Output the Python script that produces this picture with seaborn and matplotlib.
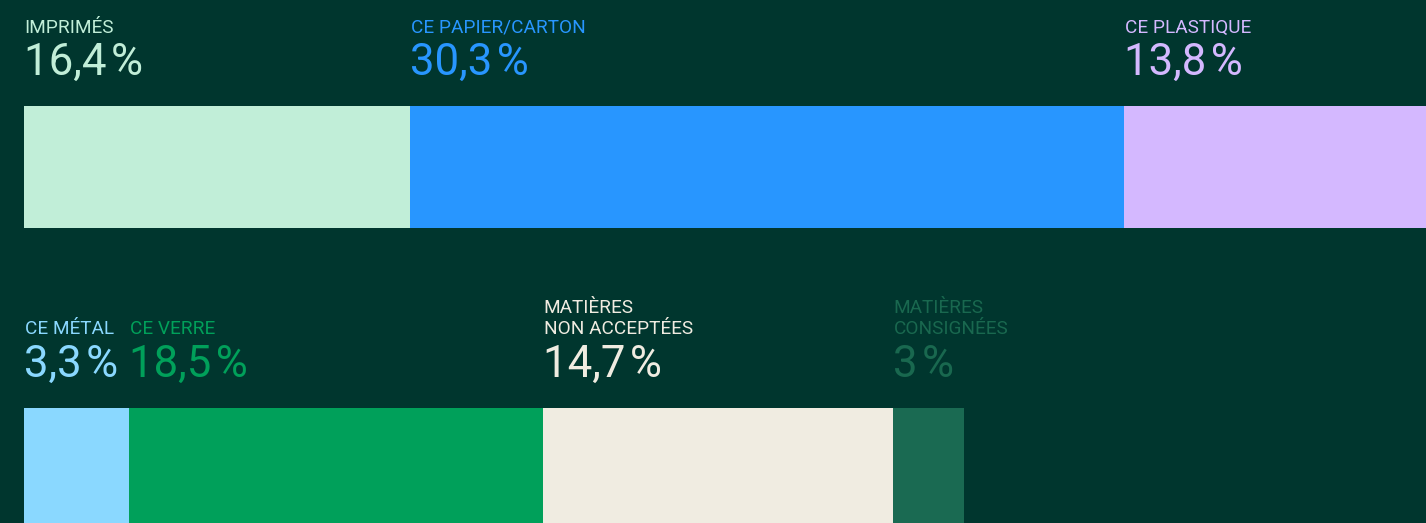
import matplotlib
matplotlib.use("Agg")
import matplotlib.pyplot as plt
import seaborn as sns
import pandas as pd

# ---- data ----
row1_labels = ["IMPRIMÉS", "CE PAPIER/CARTON", "CE PLASTIQUE"]
row1_values = [16.4, 30.3, 13.8]
row1_colors = ["#c1eed8", "#2896ff", "#d4b8ff"]

row2_labels = ["CE MÉTAL", "CE VERRE", "MATIÈRES\nNON ACCEPTÉES", "MATIÈRES\nCONSIGNÉES"]
row2_values = [3.3, 18.5, 14.7, 3.0]
row2_colors = ["#8ad8ff", "#00a05a", "#f0ece1", "#1a6a52"]
row2_text_colors = ["#8ad8ff", "#00a05a", "#f0ece1", "#19684f"]

BG = "#00362e"
W, H, DPI = 1426, 523, 100
LEFT_PX = 24
MIN_W = 4.43  # minimum displayed width so labels fit

sns.set_theme(style="white")
plt.rcParams["font.family"] = ["Roboto", "DejaVu Sans"]

fig = plt.figure(figsize=(W / DPI, H / DPI), dpi=DPI, facecolor=BG)


def make_ax(px_per_unit):
    ax = fig.add_axes([0, 0, 1, 1])
    ax.set_facecolor("none")
    ax.patch.set_alpha(0)
    ax.set_xlim(-LEFT_PX / px_per_unit, (W - LEFT_PX) / px_per_unit)
    ax.set_ylim(H, 0)  # y in pixel units (layout)
    ax.axis("off")
    return ax


def fmt(v):
    s = f"{v:.1f}".replace(".", ",")
    if s.endswith(",0"):
        s = s[:-2]
    return s + "\u200a%"


def draw_row(ax, labels, values, colors, text_colors, bar_top, bar_h, label_base, value_base):
    lefts, widths = [], []
    cum = 0.0
    prev_right = 0.0
    for i, v in enumerate(values):
        left = max(cum, prev_right)
        right = cum + v
        if i == 0:
            right = max(right, MIN_W)
        lefts.append(left)
        widths.append(right - left)
        prev_right = right
        cum += v
    df = pd.DataFrame({"cat": labels, "left": lefts, "width": widths,
                       "y": [bar_top + bar_h / 2] * len(labels)})
    for i, r in df.iterrows():
        ax.barh(r["y"], r["width"], left=r["left"], height=bar_h,
                color=colors[i], linewidth=0)
        lines = r["cat"].split("\n")
        for j, line in enumerate(reversed(lines)):
            ax.text(r["left"] + 0.03, label_base - j * 21, line, color=text_colors[i],
                    fontsize=13.7, va="baseline", ha="left")
        ax.text(r["left"], value_base, fmt(values[i]), color=text_colors[i],
                fontsize=31.5, va="baseline", ha="left")


ax1 = make_ax(23.56)
ax2 = make_ax(23.8)
draw_row(ax1, row1_labels, row1_values, row1_colors, row1_colors, 106, 122, 33, 75)
draw_row(ax2, row2_labels, row2_values, row2_colors, row2_text_colors, 408, 122, 334, 377)

fig.savefig("out.png", dpi=DPI, facecolor=BG)
